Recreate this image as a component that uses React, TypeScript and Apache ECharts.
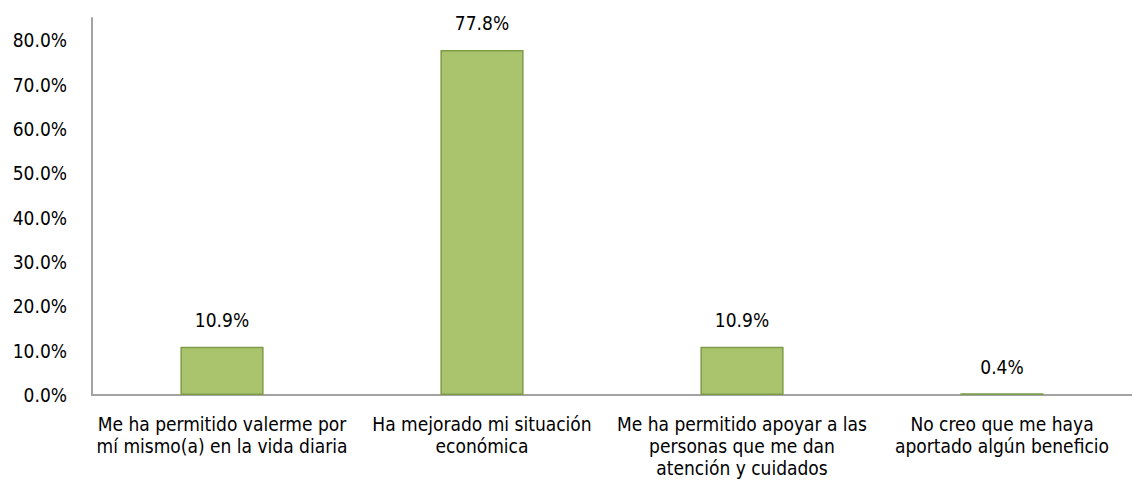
import React, { useEffect, useRef } from "react";
import * as echarts from "echarts";

const categories: string[] = [
  "Me ha permitido valerme por\nmí mismo(a) en la vida diaria",
  "Ha mejorado mi situación\neconómica",
  "Me ha permitido apoyar a las\npersonas que me dan\natención y cuidados",
  "No creo que me haya\naportado algún beneficio",
];
const values: number[] = [10.9, 77.8, 10.9, 0.4];
const yTicks: number[] = [0, 10, 20, 30, 40, 50, 60, 70, 80];

const FONT = "'Liberation Sans Narrow', 'DejaVu Sans Condensed', sans-serif";

export default function App() {
  const ref = useRef<HTMLDivElement>(null);
  useEffect(() => {
    if (!ref.current) return;
    const chart = echarts.init(ref.current, undefined, { renderer: "svg" });
    chart.setOption({
      animation: false,
      grid: { left: 92, right: 0, top: 18, bottom: 98, containLabel: false },
      xAxis: {
        type: "category",
        data: categories,
        axisLine: { lineStyle: { color: "#a3a3a3", width: 2 } },
        axisTick: { show: false },
        axisLabel: {
          interval: 0,
          color: "#000",
          fontFamily: FONT,
          fontSize: 19,
          lineHeight: 22,
          margin: 18,
        },
      },
      yAxis: {
        type: "value",
        min: 0,
        max: 85,
        interval: 10,
        splitLine: { show: false },
        axisLine: { show: true, lineStyle: { color: "#a3a3a3", width: 2 } },
        axisTick: { show: false },
        axisLabel: {
          color: "#000",
          fontFamily: FONT,
          fontSize: 19,
          margin: 25,
          formatter: (v: number) =>
            yTicks.includes(Math.round(v * 1000) / 1000) ? v.toFixed(1) + "%" : "",
        },
      },
      series: [
        {
          type: "bar",
          data: values,
          barWidth: "32%",
          itemStyle: { color: "#a9c46c", borderColor: "#7e9b48", borderWidth: 1.5 },
          label: {
            show: true,
            position: "top",
            distance: 17,
            color: "#000",
            fontFamily: FONT,
            fontSize: 19,
            formatter: (p: any) => p.value.toFixed(1) + "%",
          },
        },
      ],
    });
    return () => chart.dispose();
  }, []);
  return <div ref={ref} style={{ width: 1132, height: 493, position: "absolute", left: 0, top: 0 }} />;
}
